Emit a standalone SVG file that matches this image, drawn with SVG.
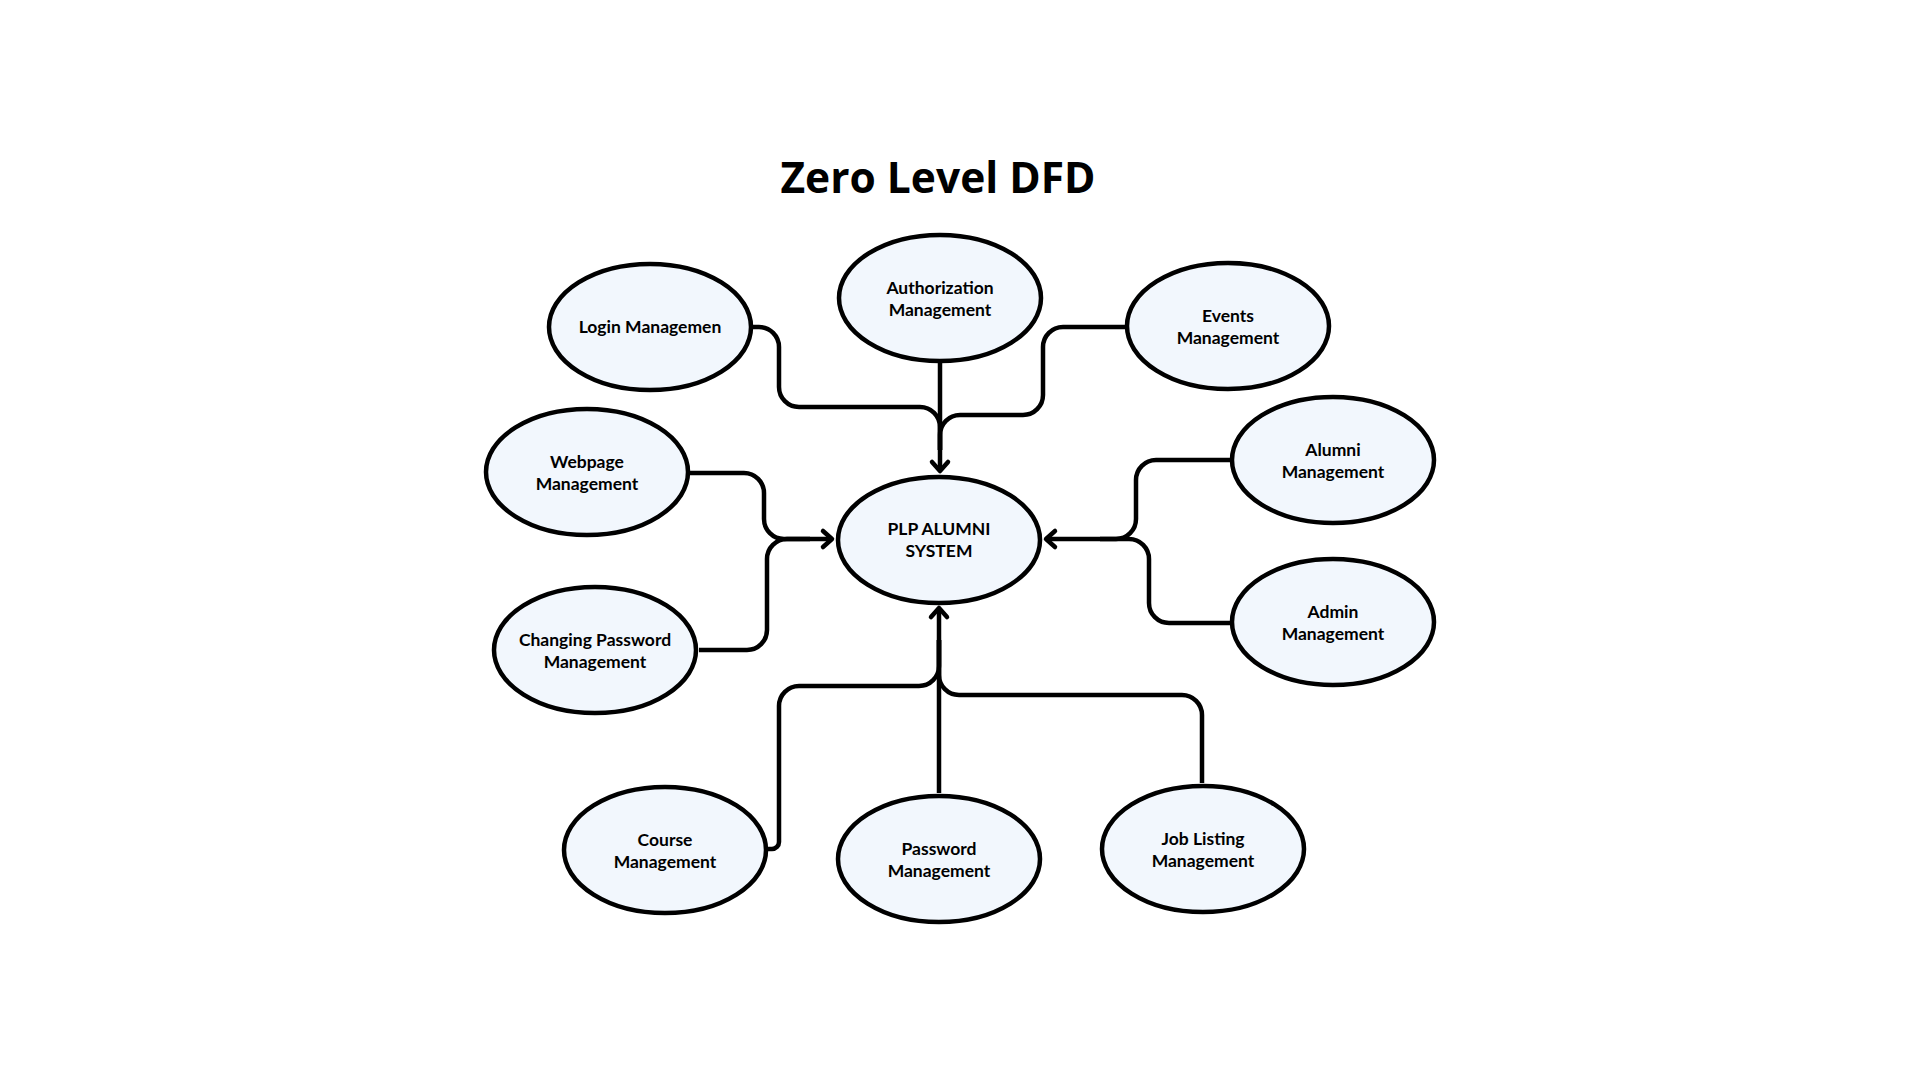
<svg xmlns="http://www.w3.org/2000/svg" width="1920" height="1080" viewBox="0 0 1920 1080">
<defs>
<style>
.node ellipse{fill:#f2f7fd;stroke:#000;stroke-width:4.5}
.node text{font-family:Lato,"Liberation Sans",sans-serif;font-weight:700;font-size:17.5px;fill:#000;text-anchor:middle}
.title{font-family:"Open Sans","Liberation Sans",sans-serif;font-weight:700;font-size:42.5px;fill:#000;text-anchor:middle}
#connectors path{fill:none;stroke:#000;stroke-width:4.5;stroke-linejoin:round}
</style>
<marker id="arr" markerUnits="userSpaceOnUse" viewBox="-15 -15 30 30" markerWidth="30" markerHeight="30" refX="0" refY="0" orient="auto" overflow="visible">
<path d="M-9,-8 L0,0 L-9,8" fill="none" stroke="#000" stroke-width="4.5" stroke-linecap="round" stroke-linejoin="round"/>
</marker>
</defs>
<rect width="1920" height="1080" fill="#fff"/>
<text class="title" x="938" y="193">Zero Level DFD</text>
<g id="connectors">
<path d="M752,327 H759 A20,20 0 0 1 779,347 V387 A20,20 0 0 0 799,407 H920 A20,20 0 0 1 940,427 V450"/>
<path d="M940,363 V471" marker-end="url(#arr)"/>
<path d="M1125,327 H1063 A20,20 0 0 0 1043,347 V395 A20,20 0 0 1 1023,415 H960 A20,20 0 0 0 940,435 V450"/>
<path d="M690,473 H744 A20,20 0 0 1 764,493 V519 A20,20 0 0 0 784,539 H832" marker-end="url(#arr)"/>
<path d="M699,650 H747 A20,20 0 0 0 767,630 V559 A20,20 0 0 1 787,539 H810"/>
<path d="M1230,460 H1156 A20,20 0 0 0 1136,480 V519 A20,20 0 0 1 1116,539 H1046" marker-end="url(#arr)"/>
<path d="M1230,623 H1169 A20,20 0 0 1 1149,603 V559 A20,20 0 0 0 1129,539 H1100"/>
<path d="M939,793 V608" marker-end="url(#arr)"/>
<path d="M766,849 H772 A7,7 0 0 0 779,842 V706 A20,20 0 0 1 799,686 H919 A20,20 0 0 0 939,666 V640"/>
<path d="M1202,783 V715 A20,20 0 0 0 1182,695 H959 A20,20 0 0 1 939,675 V640"/>
</g>
<g id="node-login" class="node"><ellipse cx="650" cy="327" rx="101" ry="63"/><text x="650" y="333">Login Managemen</text></g>
<g id="node-authorization" class="node"><ellipse cx="940" cy="298" rx="101" ry="63"/><text x="940" y="294">Authorization</text><text x="940" y="316">Management</text></g>
<g id="node-events" class="node"><ellipse cx="1228" cy="326" rx="101" ry="63"/><text x="1228" y="322">Events</text><text x="1228" y="344">Management</text></g>
<g id="node-alumni" class="node"><ellipse cx="1333" cy="460" rx="101" ry="63"/><text x="1333" y="456">Alumni</text><text x="1333" y="478">Management</text></g>
<g id="node-admin" class="node"><ellipse cx="1333" cy="622" rx="101" ry="63"/><text x="1333" y="618">Admin</text><text x="1333" y="640">Management</text></g>
<g id="node-webpage" class="node"><ellipse cx="587" cy="472" rx="101" ry="63"/><text x="587" y="468">Webpage</text><text x="587" y="490">Management</text></g>
<g id="node-changing-password" class="node"><ellipse cx="595" cy="650" rx="101" ry="63"/><text x="595" y="646">Changing Password</text><text x="595" y="668">Management</text></g>
<g id="node-plp" class="node"><ellipse cx="939" cy="540" rx="101" ry="63"/><text x="939" y="535">PLP ALUMNI</text><text x="939" y="557">SYSTEM</text></g>
<g id="node-course" class="node"><ellipse cx="665" cy="850" rx="101" ry="63"/><text x="665" y="846">Course</text><text x="665" y="868">Management</text></g>
<g id="node-password" class="node"><ellipse cx="939" cy="859" rx="101" ry="63"/><text x="939" y="855">Password</text><text x="939" y="877">Management</text></g>
<g id="node-job" class="node"><ellipse cx="1203" cy="849" rx="101" ry="63"/><text x="1203" y="845">Job Listing</text><text x="1203" y="867">Management</text></g>
</svg>
